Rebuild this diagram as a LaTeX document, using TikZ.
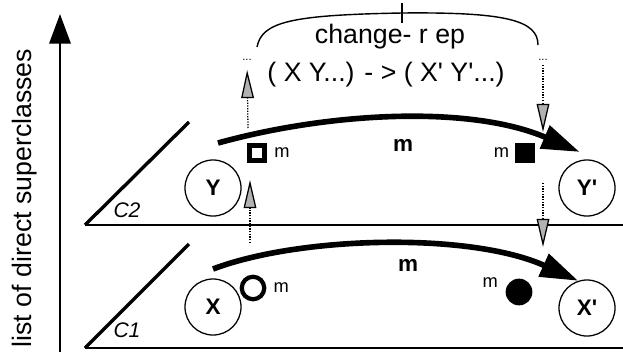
\documentclass[tikz,border=0pt]{standalone}
\usepackage{fontspec}
\setmainfont{Liberation Sans}
\usetikzlibrary{arrows.meta, positioning}

\begin{document}
\begin{tikzpicture}[
        x=0.025cm, y=-0.025cm,
        cls/.style={circle, draw, line width=0.9pt, minimum size=1.4cm, inner sep=0pt, font=\fontsize{16}{16}\selectfont\bfseries},
        plane/.style={draw, line width=1.5pt},
        slope/.style={draw, line width=2.4pt},
        axis/.style={draw, line width=2pt, -{Triangle[length=21pt, width=15pt]}},
        move/.style={draw, line width=4pt, -{Triangle[length=27pt, width=17pt]}},
        lift/.style={draw, densely dotted, line width=0.9pt, -{Triangle[length=20pt, width=9pt, fill=gray!60]}},
        brace/.style={draw, line width=1pt},
        hollowsq/.style={rectangle, draw, line width=3.2pt, minimum size=11pt, inner sep=0pt},
        fullsq/.style={rectangle, fill, minimum size=14pt, inner sep=0pt},
        hollowdot/.style={circle, draw, line width=3pt, minimum size=16pt, inner sep=0pt},
        fulldot/.style={circle, fill, minimum size=19pt, inner sep=0pt},
        meth/.style={font=\fontsize{13}{13}\selectfont, inner sep=1pt},
        bigm/.style={font=\fontsize{16}{16}\selectfont\bfseries},
        cname/.style={font=\fontsize{15}{15}\selectfont\itshape},
        say/.style={font=\fontsize{19}{19}\selectfont},
        dots/.style={font=\footnotesize, inner sep=1pt}
    ]
        \useasboundingbox (0,0) rectangle (623,355);

        % Axis on the left
        \coordinate (axisbot) at (60,352);
        \coordinate (axistop) at (60,14);
        \path [axis] (axisbot) -- (axistop);
        \node [say, rotate=90] (axislabel) at (25,198) {list of direct superclasses};

        % Planes C2 (top) and C1 (bottom)
        \coordinate (c2corner) at (85,225);
        \path [slope] (c2corner) -- (189,122);
        \path [plane] (c2corner) -- (623,225);
        \node [cname] (c2) at (127,210) {C2};
        \coordinate (c1corner) at (85,348);
        \path [slope] (c1corner) -- (189,244);
        \path [plane] (c1corner) -- (623,348);
        \node [cname] (c1) at (127,330) {C1};

        % Classes
        \node [cls] (Y) at (213,188) {Y};
        \node [cls] (X) at (213,307) {X};
        \node [cls] (Yp) at (587,188) {Y\textquotesingle};
        \node [cls] (Xp) at (587,308) {X\textquotesingle};

        % Methods
        \node [hollowsq] (sqY) at (257,153) {};
        \node [meth, right=4pt of sqY] (mY) {m};
        \node [fullsq] (sqYp) at (525,153) {};
        \node [meth, left=3pt of sqYp] (mYp) {m};
        \node [hollowdot] (dotX) at (253,288) {};
        \node [meth, right=4pt of dotX] (mX) {m};
        \node [fulldot] (dotXp) at (519,292) {};
        \node [meth, left=7pt of dotXp.north west] (mXp) {m};
        \node [bigm] (mtop) at (403,145) {m};
        \node [bigm] (mbot) at (408,265) {m};

        % Moves
        \coordinate (fromY) at (218,143);
        \coordinate (fromX) at (213,269);
        \path [move] (fromY) .. controls (330,112) and (470,105) .. ([yshift=6pt]Yp.105);
        \path [move] (fromX) .. controls (300,236) and (470,232) .. (Xp.108);

        % change-rep
        \node [dots] (dotsL) at (247,60) {...};
        \node [dots] (dotsR) at (543,60) {...};
        \path [brace] (257,47) .. controls (262,22) and (290,15) .. (402,13)
            .. controls (505,12) and (538,20) .. (538,45);
        \path [brace] (402,3) -- (402,23);
        \node [say] (rep) at (390,37) {change- r ep};
        \node [say] (args) at (386,75) {( X Y...) - > ( X\textquotesingle{} Y\textquotesingle...)};

        \coordinate (liftA) at (248,128);
        \path [lift, shorten >=5.5pt] (liftA) -- (dotsL);
        \coordinate (dropA) at (543,132);
        \path [lift, shorten <=2pt] (dotsR) -- (dropA);
        \coordinate (liftB) at (250,243);
        \coordinate (liftBtop) at (250,180);
        \path [lift] (liftB) -- (liftBtop);
        \coordinate (dropB) at (543,183);
        \coordinate (dropBbot) at (543,247);
        \path [lift] (dropB) -- (dropBbot);
    \end{tikzpicture}
\end{document}
